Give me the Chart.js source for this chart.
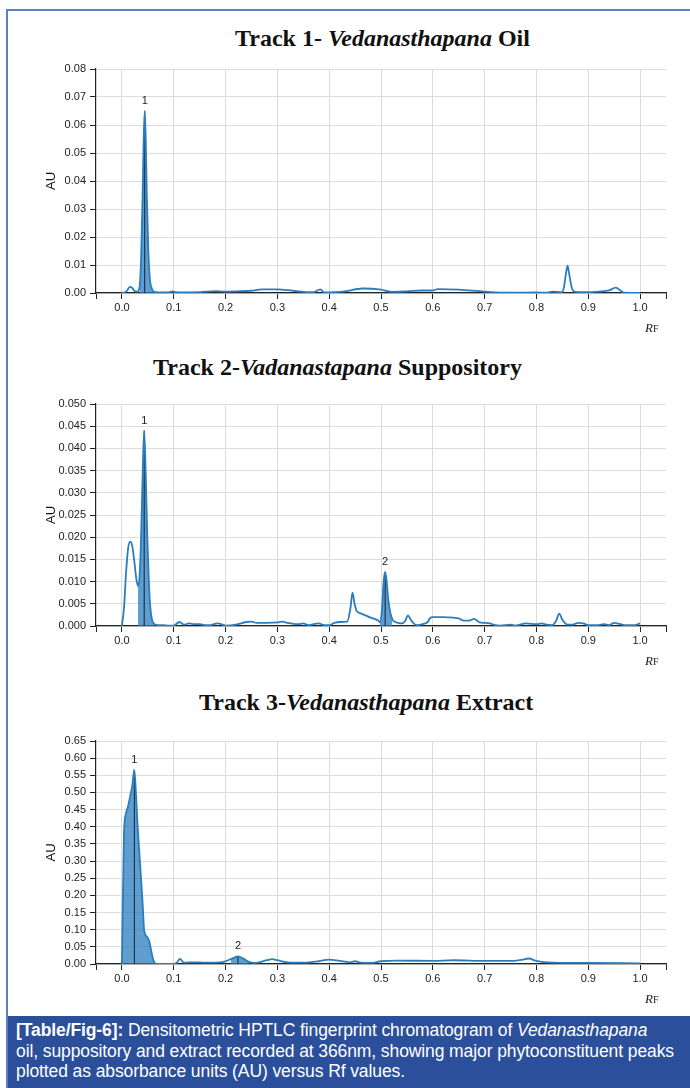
<!DOCTYPE html>
<html>
<head>
<meta charset="utf-8">
<script src="https://cdn.jsdelivr.net/npm/chart.js@4.4.1/dist/chart.umd.min.js"></script>
<style>
  body { margin: 0; background: #fff; }
  #page { position: relative; width: 690px; height: 1088px; overflow: hidden; }
  #frame { position: absolute; left: 6px; top: 9px; width: 700px; height: 1100px; border-left: 2px solid #5b7fc4; border-top: 2px solid #5b7fc4; }
  .title { position: absolute; white-space: nowrap; font-family: "Liberation Serif", "Times New Roman", serif; font-weight: bold; font-size: 24px; color: #111; line-height: 24px; }
  .plot { position: absolute; left: 0; }
  #caption { position: absolute; left: 8px; top: 1016px; width: 682px; height: 72px; background: #2b4f9a; color: #fff;
    font-family: "Liberation Sans", Arial, sans-serif; font-size: 17.5px; line-height: 20.5px; padding: 4px 0 0 8px; box-sizing: border-box; white-space: nowrap; letter-spacing: -0.1px; }
</style>
</head>
<body>
<div id="page">
  <div id="frame"></div>
  <div class="title" id="t1" style="left:235px;top:26px">Track 1- <i>Vedanasthapana</i> Oil</div>
  <div class="title" id="t2" style="left:153px;top:355px">Track 2-<i>Vadanastapana</i> Suppository</div>
  <div class="title" id="t3" style="left:199px;top:690px">Track 3-<i>Vedanasthapana</i> Extract</div>
  <div class="plot" style="top:55px"><canvas id="c1" width="690" height="286"></canvas></div>
  <div class="plot" style="top:390px"><canvas id="c2" width="690" height="284"></canvas></div>
  <div class="plot" style="top:727px"><canvas id="c3" width="690" height="285"></canvas></div>
  <div id="caption"><b>[Table/Fig-6]:</b> Densitometric HPTLC fingerprint chromatogram of <i>Vedanasthapana</i><br>oil, suppository and extract recorded at 366nm, showing major phytoconstituent peaks<br>plotted as absorbance units (AU) versus Rf values.</div>
</div>
<script>
// x ticks (Rf) shared by all three tracks; the ends only carry tick marks
const rfTicks = [-0.05, 0.0, 0.1, 0.2, 0.3, 0.4, 0.5, 0.6, 0.7, 0.8, 0.9, 1.0, 1.05];

// Track 1 - oil: [Rf, AU]
const track1 = [
  [0, 0], [0.005, 0.0002], [0.01, 0.0008], [0.015, 0.0022], [0.02, 0.0018], [0.025, 0.0006], [0.03, 0.0005],
  [0.034, 0.002], [0.037, 0.012], [0.04, 0.035], [0.042, 0.055], [0.044, 0.065], [0.046, 0.055], [0.048, 0.035],
  [0.051, 0.015], [0.054, 0.005], [0.058, 0.0015], [0.062, 0.0004], [0.07, 0.0002], [0.08, 0.0002], [0.09, 0.0002],
  [0.098, 0.0006], [0.103, 0.0003], [0.12, 0.0002], [0.15, 0.0003], [0.18, 0.0007], [0.2, 0.0005], [0.22, 0.0006],
  [0.25, 0.0008], [0.27, 0.0013], [0.3, 0.0013], [0.33, 0.0008], [0.36, 0.0003], [0.37, 0.0003], [0.383, 0.0013],
  [0.39, 0.0002], [0.41, 0.0003], [0.43, 0.0006], [0.465, 0.0016], [0.5, 0.0012], [0.52, 0.0004], [0.55, 0.0006],
  [0.58, 0.0009], [0.6, 0.0009], [0.61, 0.0014], [0.65, 0.0012], [0.7, 0.0005], [0.75, 0.0001], [0.8, 0.0002],
  [0.82, 0.0001], [0.83, 0.0005], [0.85, 0.0003], [0.853, 0.002], [0.857, 0.007], [0.86, 0.0098], [0.863, 0.007],
  [0.868, 0.002], [0.875, 0.0004], [0.9, 0.0003], [0.92, 0.0005], [0.94, 0.0009], [0.953, 0.0019], [0.965, 0.0005],
  [0.97, 0.0001], [1.0, 0]
];
const t1PeakNames = ['1'];
const t1PeakRf = [0.044];
const t1PeakAu = [0.065];
const t1PeakFrom = [0.034];
const t1PeakTo = [0.062];
const t1AuTicks = [0, 0.01, 0.02, 0.03, 0.04, 0.05, 0.06, 0.07, 0.08];

// Track 2 - suppository
const track2 = [
  [0, 0], [0.004, 0.004], [0.008, 0.012], [0.012, 0.0175], [0.016, 0.019], [0.02, 0.018], [0.024, 0.0145],
  [0.028, 0.0105], [0.031, 0.009], [0.034, 0.011], [0.037, 0.02], [0.04, 0.034], [0.043, 0.044], [0.046, 0.034],
  [0.049, 0.02], [0.052, 0.01], [0.055, 0.004], [0.058, 0.0015], [0.062, 0.0005], [0.07, 0.0002], [0.08, 0.0002],
  [0.09, 0.0001], [0.1, 0.0001], [0.111, 0.0009], [0.12, 0.0003], [0.13, 0.0006], [0.14, 0.0004], [0.15, 0.0004],
  [0.16, 0.0002], [0.17, 0.0002], [0.185, 0.0006], [0.2, 0.0001], [0.22, 0.0003], [0.24, 0.0009], [0.25, 0.001],
  [0.26, 0.0007], [0.28, 0.0007], [0.3, 0.0008], [0.31, 0.001], [0.32, 0.0007], [0.34, 0.0004], [0.35, 0.0006],
  [0.36, 0.0002], [0.38, 0.0006], [0.39, 0.0002], [0.4, 0.0002], [0.41, 0.0007], [0.42, 0.0009], [0.435, 0.001],
  [0.441, 0.004], [0.445, 0.0075], [0.449, 0.005], [0.453, 0.0034], [0.46, 0.0029], [0.47, 0.0024], [0.48, 0.0019],
  [0.49, 0.0015], [0.495, 0.0012], [0.498, 0.0008], [0.502, 0.004], [0.505, 0.01], [0.508, 0.0122], [0.511, 0.01],
  [0.514, 0.006], [0.518, 0.003], [0.522, 0.0015], [0.53, 0.0008], [0.54, 0.0006], [0.547, 0.0012], [0.552, 0.0024],
  [0.557, 0.0015], [0.563, 0.0006], [0.57, 0.0002], [0.58, 0.0004], [0.59, 0.0009], [0.595, 0.0018], [0.6, 0.002],
  [0.62, 0.002], [0.64, 0.0019], [0.65, 0.0017], [0.66, 0.0012], [0.67, 0.0012], [0.68, 0.0016], [0.69, 0.0008],
  [0.7, 0.0007], [0.71, 0.0006], [0.72, 0.0002], [0.73, 0.0001], [0.75, 0.0003], [0.76, 0.0001], [0.78, 0.0006],
  [0.8, 0.0004], [0.81, 0.0006], [0.82, 0.0003], [0.83, 0.0002], [0.838, 0.0012], [0.844, 0.0028], [0.85, 0.0014],
  [0.86, 0.0003], [0.87, 0.0003], [0.88, 0.0007], [0.89, 0.0006], [0.9, 0.0002], [0.92, 0.0002], [0.93, 0.0004],
  [0.94, 0.0002], [0.95, 0.0007], [0.96, 0.0005], [0.97, 0.0002], [0.99, 0.0002], [1.0, 0.0006]
];
const t2PeakNames = ['1', '2'];
const t2PeakRf = [0.043, 0.508];
const t2PeakAu = [0.044, 0.0122];
const t2PeakFrom = [0.031, 0.498];
const t2PeakTo = [0.062, 0.522];
const t2AuTicks = [0, 0.005, 0.01, 0.015, 0.02, 0.025, 0.03, 0.035, 0.04, 0.045, 0.05];

// Track 3 - extract
const track3 = [
  [0, 0], [0.004, 0.38], [0.008, 0.44], [0.012, 0.46], [0.016, 0.49], [0.02, 0.52], [0.024, 0.566], [0.027, 0.5],
  [0.03, 0.41], [0.033, 0.34], [0.036, 0.27], [0.04, 0.176], [0.043, 0.097], [0.048, 0.08], [0.053, 0.065],
  [0.057, 0.035], [0.061, 0.01], [0.065, 0.001], [0.07, 0], [0.1, 0], [0.106, 0.004], [0.112, 0.015], [0.12, 0.004],
  [0.14, 0.005], [0.16, 0.004], [0.18, 0.004], [0.2, 0.008], [0.21, 0.014], [0.224, 0.022], [0.235, 0.015],
  [0.245, 0.006], [0.255, 0.003], [0.265, 0.005], [0.28, 0.011], [0.29, 0.014], [0.3, 0.011], [0.32, 0.005],
  [0.35, 0.004], [0.38, 0.008], [0.4, 0.013], [0.42, 0.009], [0.44, 0.005], [0.45, 0.008], [0.46, 0.004],
  [0.48, 0.003], [0.5, 0.008], [0.53, 0.01], [0.6, 0.009], [0.64, 0.011], [0.7, 0.009], [0.75, 0.009],
  [0.77, 0.012], [0.785, 0.016], [0.8, 0.009], [0.82, 0.005], [0.9, 0.003], [1.0, 0.002]
];
const t3PeakNames = ['1', '2'];
const t3PeakRf = [0.024, 0.224];
const t3PeakAu = [0.566, 0.022];
const t3PeakFrom = [0, 0.205];
const t3PeakTo = [0.065, 0.245];
const t3AuTicks = [0, 0.05, 0.1, 0.15, 0.2, 0.25, 0.3, 0.35, 0.4, 0.45, 0.5, 0.55, 0.6, 0.65];

const lineColor = '#2a7dbf';
const fillColor = 'rgba(42,125,191,0.75)';
const markColor = '#0e2236';
const tickFont = { family: '"Liberation Sans", Arial, sans-serif', size: 11 };

const peakLabels = {
  id: 'peakLabels',
  afterDatasetsDraw(chart) {
    const ctx = chart.ctx;
    chart.data.datasets.forEach((ds, i) => {
      if (!ds.peakName) return;
      const pts = chart.getDatasetMeta(i).data;
      const top = pts[pts.length - 1];
      ctx.save();
      ctx.font = '11px "Liberation Sans", Arial, sans-serif';
      ctx.fillStyle = '#222';
      ctx.textAlign = 'center';
      ctx.textBaseline = 'middle';
      ctx.fillText(ds.peakName, top.x, top.y - 10);
      ctx.restore();
    });
  }
};

const rfLabel = {
  id: 'rfLabel',
  afterDraw(chart) {
    const ctx = chart.ctx;
    const x = chart.scales.x.getPixelForValue(1.0);
    const y = chart.chartArea.bottom + 39;
    ctx.save();
    ctx.fillStyle = '#222';
    ctx.textBaseline = 'alphabetic';
    ctx.font = 'italic 13px "Liberation Serif", serif';
    ctx.fillText('R', x + 5, y);
    const w = ctx.measureText('R').width;
    ctx.font = '10px "Liberation Serif", serif';
    ctx.fillText('F', x + 5 + w, y);
    ctx.restore();
  }
};

function buildPeaks(names, rf, au, from, to) {
  return names.map((n, i) => ({ name: n, rf: rf[i], au: au[i], from: from[i], to: to[i] }));
}

function renderTrack(id, series, peaks, auTicks, digits, padTop) {
  const pts = series.map(p => ({ x: p[0], y: p[1] }));
  const datasets = [{
    data: pts, borderColor: lineColor, borderWidth: 1.8, pointRadius: 0,
    cubicInterpolationMode: 'monotone', fill: false, order: 0
  }];
  peaks.forEach(pk => {
    datasets.push({
      data: pts.filter(p => p.x >= pk.from && p.x <= pk.to), borderWidth: 0, pointRadius: 0,
      cubicInterpolationMode: 'monotone', fill: 'origin', backgroundColor: fillColor, order: 2
    });
    datasets.push({
      data: [{ x: pk.rf, y: 0 }, { x: pk.rf, y: pk.au }], borderColor: markColor, borderWidth: 1,
      pointRadius: 0, fill: false, order: 1, peakName: pk.name
    });
  });

  const gridColor = c => (c.tick && (c.tick.value < -0.001 || c.tick.value > 1.001)) ? 'rgba(0,0,0,0)' : '#dcdcdc';

  return new Chart(document.getElementById(id), {
    type: 'line',
    data: { datasets },
    plugins: [peakLabels, rfLabel],
    options: {
      responsive: false,
      animation: false,
      layout: { padding: { top: padTop, right: 24, left: 0, bottom: 0 } },
      plugins: { legend: { display: false }, tooltip: { enabled: false }, title: { display: false } },
      scales: {
        x: {
          type: 'linear', min: -0.05, max: 1.05,
          afterBuildTicks: s => { s.ticks = rfTicks.map(v => ({ value: v })); },
          afterFit: s => { s.height = 48; },
          ticks: {
            font: tickFont, color: '#222', padding: 2, maxRotation: 0, autoSkip: false,
            callback: v => (v < -0.001 || v > 1.001) ? '' : Number(v).toFixed(1)
          },
          grid: { color: gridColor, tickColor: '#222', tickLength: 6, lineWidth: 1 },
          border: { color: '#222', width: 1.2 }
        },
        y: {
          type: 'linear', min: auTicks[0], max: auTicks[auTicks.length - 1],
          afterBuildTicks: s => { s.ticks = auTicks.map(v => ({ value: v })); },
          afterFit: s => { s.width = 96; },
          title: { display: true, text: 'AU', font: { family: '"Liberation Sans", Arial, sans-serif', size: 13 }, color: '#111', padding: { top: 44, bottom: 0 } },
          ticks: { font: tickFont, color: '#222', padding: 4, autoSkip: false, callback: v => Number(v).toFixed(digits) },
          grid: { color: '#dcdcdc', tickColor: '#222', tickLength: 6, lineWidth: 1 },
          border: { color: '#222', width: 1.2 }
        }
      }
    }
  });
}

renderTrack('c1', track1, buildPeaks(t1PeakNames, t1PeakRf, t1PeakAu, t1PeakFrom, t1PeakTo), t1AuTicks, 2, 14);
renderTrack('c2', track2, buildPeaks(t2PeakNames, t2PeakRf, t2PeakAu, t2PeakFrom, t2PeakTo), t2AuTicks, 3, 14);
renderTrack('c3', track3, buildPeaks(t3PeakNames, t3PeakRf, t3PeakAu, t3PeakFrom, t3PeakTo), t3AuTicks, 2, 14);
</script>
</body>
</html>
